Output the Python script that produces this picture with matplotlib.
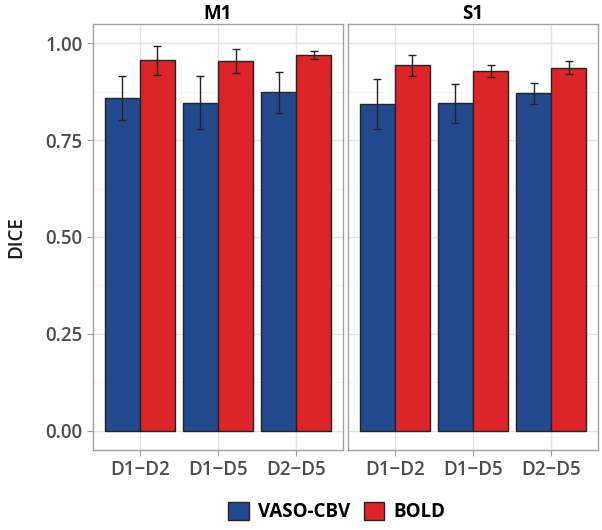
import matplotlib.pyplot as plt
from matplotlib.patches import Patch
import numpy as np

plt.rcParams['font.family'] = ['Open Sans', 'DejaVu Sans']

panels = ['M1', 'S1']
pairs = ['D1\u2212D2', 'D1\u2212D5', 'D2\u2212D5']
vaso_mean = {'M1': [0.859, 0.847, 0.874], 'S1': [0.844, 0.845, 0.871]}
vaso_sd = {'M1': [0.058, 0.068, 0.053], 'S1': [0.064, 0.050, 0.027]}
bold_mean = {'M1': [0.956, 0.955, 0.970], 'S1': [0.943, 0.928, 0.937]}
bold_sd = {'M1': [0.037, 0.031, 0.011], 'S1': [0.027, 0.016, 0.017]}

blue = '#234A8F'
red = '#DD2428'
grey_txt = '#4D4D4D'

fig = plt.figure(figsize=(6.02, 5.30), dpi=100)
W, H = 602, 530
left_px = [93, 348]
pw = 250
top_px, bot_px = 24, 450

x = np.arange(len(pairs))
bw = 0.45
for i, p in enumerate(panels):
    ax = fig.add_axes([left_px[i] / W, 1 - bot_px / H, pw / W, (bot_px - top_px) / H])
    ax.bar(x - bw / 2, vaso_mean[p], bw, color=blue, edgecolor='#222222', linewidth=1, zorder=3)
    ax.bar(x + bw / 2, bold_mean[p], bw, color=red, edgecolor='#222222', linewidth=1, zorder=3)
    ax.errorbar(x - bw / 2, vaso_mean[p], yerr=vaso_sd[p], fmt='none', ecolor='#222222',
                elinewidth=1, capsize=2.6, capthick=1, zorder=4)
    ax.errorbar(x + bw / 2, bold_mean[p], yerr=bold_sd[p], fmt='none', ecolor='#222222',
                elinewidth=1, capsize=2.6, capthick=1, zorder=4)
    ax.set_xlim(-0.6, 2.6)
    ax.set_ylim(-0.05, 1.05)
    ax.set_xticks(x)
    ax.set_xticklabels(pairs)
    ax.set_yticks([0, 0.25, 0.5, 0.75, 1.0])
    ax.set_yticks([0.125, 0.375, 0.625, 0.875], minor=True)
    ax.grid(True, which='major', color='#E3E3E3', linewidth=1, zorder=0)
    ax.grid(True, which='minor', axis='y', color='#F0F0F0', linewidth=0.6, zorder=0)
    for s in ax.spines.values():
        s.set_color('#A0A0A0')
        s.set_linewidth(1)
    ax.tick_params(axis='both', which='major', colors='#A0A0A0', labelcolor=grey_txt,
                   labelsize=13.5, length=4)
    ax.tick_params(axis='y', which='minor', length=0)
    for lab in ax.get_xticklabels() + ax.get_yticklabels():
        lab.set_fontweight('semibold')
    if i == 0:
        ax.set_yticklabels(['0.00', '0.25', '0.50', '0.75', '1.00'])
        ax.set_ylabel('DICE', fontsize=13.5, fontweight='semibold', color='#1A1A1A', labelpad=14)
    else:
        ax.set_yticklabels([])
        ax.tick_params(axis='y', which='major', length=0)
    ax.set_title(p, fontsize=13.5, fontweight='bold', pad=2)

handles = [Patch(facecolor=blue, edgecolor='#222222', label='VASO-CBV'),
           Patch(facecolor=red, edgecolor='#222222', label='BOLD')]
fig.legend(handles=handles, loc='center', bbox_to_anchor=(0.56, 1 - 512 / H), ncol=2,
           frameon=False, prop={'size': 13.5, 'weight': 'bold'}, handlelength=1.1,
           handleheight=1.1, handletextpad=0.5, columnspacing=0.7)

fig.savefig('out.png', dpi=100)
